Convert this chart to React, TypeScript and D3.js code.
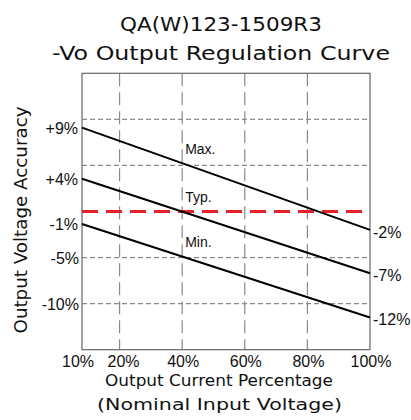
import { useEffect, useRef } from 'react';
import * as d3 from 'd3';

// chart text
const titleLines = ['QA(W)123-1509R3', '-Vo Output Regulation Curve'];
const xTitleLines = ['Output Current Percentage', '(Nominal Input Voltage)'];
const yTitle = 'Output Voltage Accuracy';

// x axis: output current in %
const xDomain = [8, 100];
const xTicks = [10, 20, 40, 60, 80, 100];
const xGrid = [20, 40, 60, 80];

// y axis: output voltage accuracy in %
const yDomain = [-15, 15];
const yGrid = [10, 5, -5, -10];
const yGridLabels = ['', '', '-5%', '-10%'];
const typicalLevel = 0;

// the three regulation curves, read at 8% and 100% load
const curveX = [8, 100];
const curveNames = ['Max.', 'Typ.', 'Min.'];
const maxValues = [9.1, -2.0];
const typValues = [3.55, -6.7];
const minValues = [-1.35, -11.5];
const startLabels = ['+9%', '+4%', '-1%'];
const endLabels = ['-2%', '-7%', '-12%'];

const TITLE_FONT = '"DejaVu Sans", sans-serif';
const LABEL_FONT = '"Liberation Sans", Arial, sans-serif';

const App = () => {
    const svgRef = useRef<SVGSVGElement>(null);

    useEffect(() => {
        const width = 411;
        const height = 420;
        const margin = { top: 73.3, right: 41, bottom: 70.3, left: 82 };
        const innerW = width - margin.left - margin.right;
        const innerH = height - margin.top - margin.bottom;

        const svg = d3.select(svgRef.current)
            .attr('width', width)
            .attr('height', height);
        svg.selectAll('*').remove();

        const x = d3.scaleLinear().domain(xDomain).range([0, innerW]);
        const y = d3.scaleLinear().domain(yDomain).range([innerH, 0]);

        // titles
        svg.selectAll('.title')
            .data(titleLines)
            .enter()
            .append('text')
            .attr('x', 221)
            .attr('y', (d, i) => 31 + i * 29)
            .attr('text-anchor', 'middle')
            .attr('textLength', (d, i) => (i === 0 ? 202 : 338))
            .attr('lengthAdjust', 'spacingAndGlyphs')
            .style('font-family', TITLE_FONT)
            .style('font-size', '20px')
            .style('fill', '#111')
            .text(d => d);

        const g = svg.append('g')
            .attr('transform', `translate(${margin.left}, ${margin.top})`);

        // vertical long-dash grid
        g.selectAll('.vgrid')
            .data(xGrid)
            .enter()
            .append('line')
            .attr('x1', d => x(d))
            .attr('x2', d => x(d))
            .attr('y1', 0)
            .attr('y2', innerH)
            .style('stroke', '#8a8a8a')
            .style('stroke-width', 1.2)
            .style('stroke-dasharray', '13,6');

        // horizontal short-dash grid
        g.selectAll('.hgrid')
            .data(yGrid)
            .enter()
            .append('line')
            .attr('x1', 0)
            .attr('x2', innerW)
            .attr('y1', d => y(d))
            .attr('y2', d => y(d))
            .style('stroke', '#8a8a8a')
            .style('stroke-width', 1.2)
            .style('stroke-dasharray', '5,3');

        // frame
        g.append('rect')
            .attr('x', 0)
            .attr('y', 0)
            .attr('width', innerW)
            .attr('height', innerH)
            .style('fill', 'none')
            .style('stroke', '#666')
            .style('stroke-width', 1.2);

        // red dashed typical line
        g.append('line')
            .attr('x1', x(xDomain[0]))
            .attr('x2', x(xDomain[1]))
            .attr('y1', y(typicalLevel))
            .attr('y2', y(typicalLevel))
            .style('stroke', '#e8202a')
            .style('stroke-width', 3)
            .style('stroke-dasharray', '16,8');

        const curves = [maxValues, typValues, minValues].map((vals, i) => ({
            name: curveNames[i],
            points: vals.map((v, j) => [curveX[j], v] as [number, number]),
            start: startLabels[i],
            end: endLabels[i],
        }));

        const line = d3.line<[number, number]>()
            .x(d => x(d[0]))
            .y(d => y(d[1]));

        g.selectAll('.curve')
            .data(curves)
            .enter()
            .append('path')
            .attr('d', d => line(d.points))
            .style('fill', 'none')
            .style('stroke', '#000')
            .style('stroke-width', 2);

        // curve name labels, sitting just above where the curve crosses 40%
        g.selectAll('.curve-name')
            .data(curves)
            .enter()
            .append('text')
            .attr('x', x(40) + 3)
            .attr('y', d => {
                const interp = d3.scaleLinear().domain(curveX).range(d.points.map(p => p[1]));
                return y(interp(40)) - 9.5;
            })
            .style('font-family', LABEL_FONT)
            .style('font-size', '14px')
            .style('fill', '#111')
            .text(d => d.name);

        const tickStyle = (sel: any) => sel
            .style('font-family', LABEL_FONT)
            .style('font-size', '16px')
            .style('fill', '#111');

        // left labels: curve starts
        g.selectAll('.start-label')
            .data(curves)
            .enter()
            .append('text')
            .attr('x', -4)
            .attr('y', d => y(d.points[0][1]) + 6.5)
            .attr('text-anchor', 'end')
            .call(tickStyle)
            .text(d => d.start);

        // left labels: grid values
        g.selectAll('.grid-label')
            .data(yGrid.map((v, i) => ({ v, label: yGridLabels[i] })).filter(d => d.label))
            .enter()
            .append('text')
            .attr('x', -3)
            .attr('y', d => y(d.v) + 6.5)
            .attr('text-anchor', 'end')
            .call(tickStyle)
            .text(d => d.label);

        // right labels: curve ends
        g.selectAll('.end-label')
            .data(curves)
            .enter()
            .append('text')
            .attr('x', innerW + 3)
            .attr('y', d => y(d.points[1][1]) + 8)
            .call(tickStyle)
            .text(d => d.end);

        // x tick labels
        g.selectAll('.x-tick')
            .data(xTicks)
            .enter()
            .append('text')
            .attr('x', d => (d === xTicks[0] ? x(xDomain[0]) - 4 : x(d) + (d === 20 ? 4 : 1)))
            .attr('y', innerH + 17.5)
            .attr('text-anchor', 'middle')
            .call(tickStyle)
            .text(d => `${d}%`);

        // x axis title
        svg.selectAll('.x-title')
            .data(xTitleLines)
            .enter()
            .append('text')
            .attr('x', (d, i) => (i === 0 ? 219 : 219.5))
            .attr('y', (d, i) => 386 + i * 24)
            .attr('text-anchor', 'middle')
            .attr('textLength', (d, i) => (i === 0 ? 228 : 245))
            .attr('lengthAdjust', 'spacingAndGlyphs')
            .style('font-family', TITLE_FONT)
            .style('font-size', '16.5px')
            .style('fill', '#111')
            .text(d => d);

        // y axis title
        svg.append('text')
            .attr('transform', 'translate(27, 220) rotate(-90)')
            .attr('text-anchor', 'middle')
            .attr('textLength', 227)
            .attr('lengthAdjust', 'spacingAndGlyphs')
            .style('font-family', TITLE_FONT)
            .style('font-size', '18px')
            .style('fill', '#111')
            .text(yTitle);
    }, []);

    return <svg ref={svgRef} style={{ position: 'absolute', left: 0, top: 0, background: '#fff' }} />;
};

export default App;
